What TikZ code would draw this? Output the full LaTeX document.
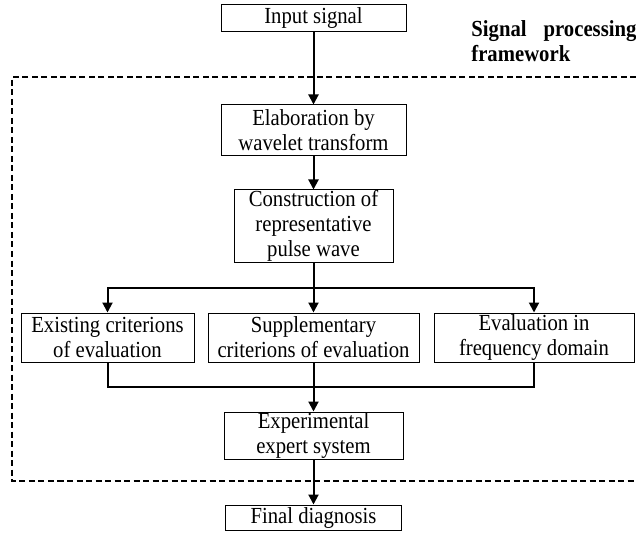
\documentclass[tikz,border=0pt]{standalone}
\usepackage{fontspec}
\setmainfont[FakeStretch=0.9]{Liberation Serif}
\usetikzlibrary{arrows.meta,positioning,calc}
\tikzset{
    %Define standard arrow tip
    >={Triangle[length=5pt,width=5pt]},
    %Define style for boxes
    box/.style={
           rectangle,
           draw=black, line width=0.5pt,
           align=center,
           inner xsep=2pt, inner ysep=0pt,
           font=\fontsize{11.5}{12.5}\selectfont},
    % Define arrow style
    imply/.style={
           ->,
           line width=1pt},
    link/.style={
           line width=1pt},
    % Define style for the framework border
    dashframe/.style={
           line width=1pt,
           dash pattern=on 3pt off 1.75pt}
}

\begin{document}
\begin{tikzpicture}
 %bounding box
    \useasboundingbox (0,0) rectangle (318pt,-267pt);
 %nodes
    \node[box, minimum width=92.5pt, minimum height=13.5pt] (inp) at (156.75pt,-9.25pt) {Input signal};
    \node[box, minimum width=92.5pt, minimum height=25.5pt, below=36pt of inp] (wav) {Elaboration by\\wavelet transform};
    \node[box, minimum width=79.5pt, minimum height=36pt, below=16.5pt of wav] (rep) {Construction of\\representative\\pulse wave};
    \node[box, minimum width=105.5pt, minimum height=24.5pt, below=25pt of rep] (supp) {Supplementary\\criterions of evaluation};
    \node[box, minimum width=86.5pt, minimum height=24.5pt, left=6.5pt of supp] (exist) {Existing criterions\\of evaluation};
    \node[box, minimum width=100pt, minimum height=24.5pt, right=7pt of supp] (freq) {Evaluation in\\frequency domain};
    \node[box, minimum width=89.5pt, minimum height=23.5pt, below=24.5pt of supp] (exp) {Experimental\\expert system};
    \node[box, minimum width=88pt, minimum height=12.5pt, below=22.5pt of exp] (diag) {Final diagnosis};
    \node[font=\fontsize{11.5}{12.5}\selectfont\bfseries, text width=82.5pt, align=justify, inner sep=0pt, anchor=north west] (title) at (235.5pt,-10pt) {Signal processing framework};
 %edges
    \draw[imply] (inp) -- (wav);
    \draw[imply] (wav) -- (rep);
    \coordinate (split) at ($(rep.south)!0.5!(supp.north)$);
    \draw[imply] (rep) -- (supp);
    \draw[imply] (split) -| (exist.north);
    \draw[imply] (split) -| (freq.north);
    \coordinate (merge) at ($(supp.south)!0.5!(exp.north)$);
    \draw[link] (exist.south) |- (merge) -| (freq.south);
    \draw[imply] (supp) -- (exp);
    \draw[imply] (exp) -- (diag);
 %framework border
    \draw[dashframe] (318pt,-38.5pt) -- (6pt,-38.5pt) -- (6pt,-240.5pt) -- (318pt,-240.5pt);
\end{tikzpicture}
\end{document}
